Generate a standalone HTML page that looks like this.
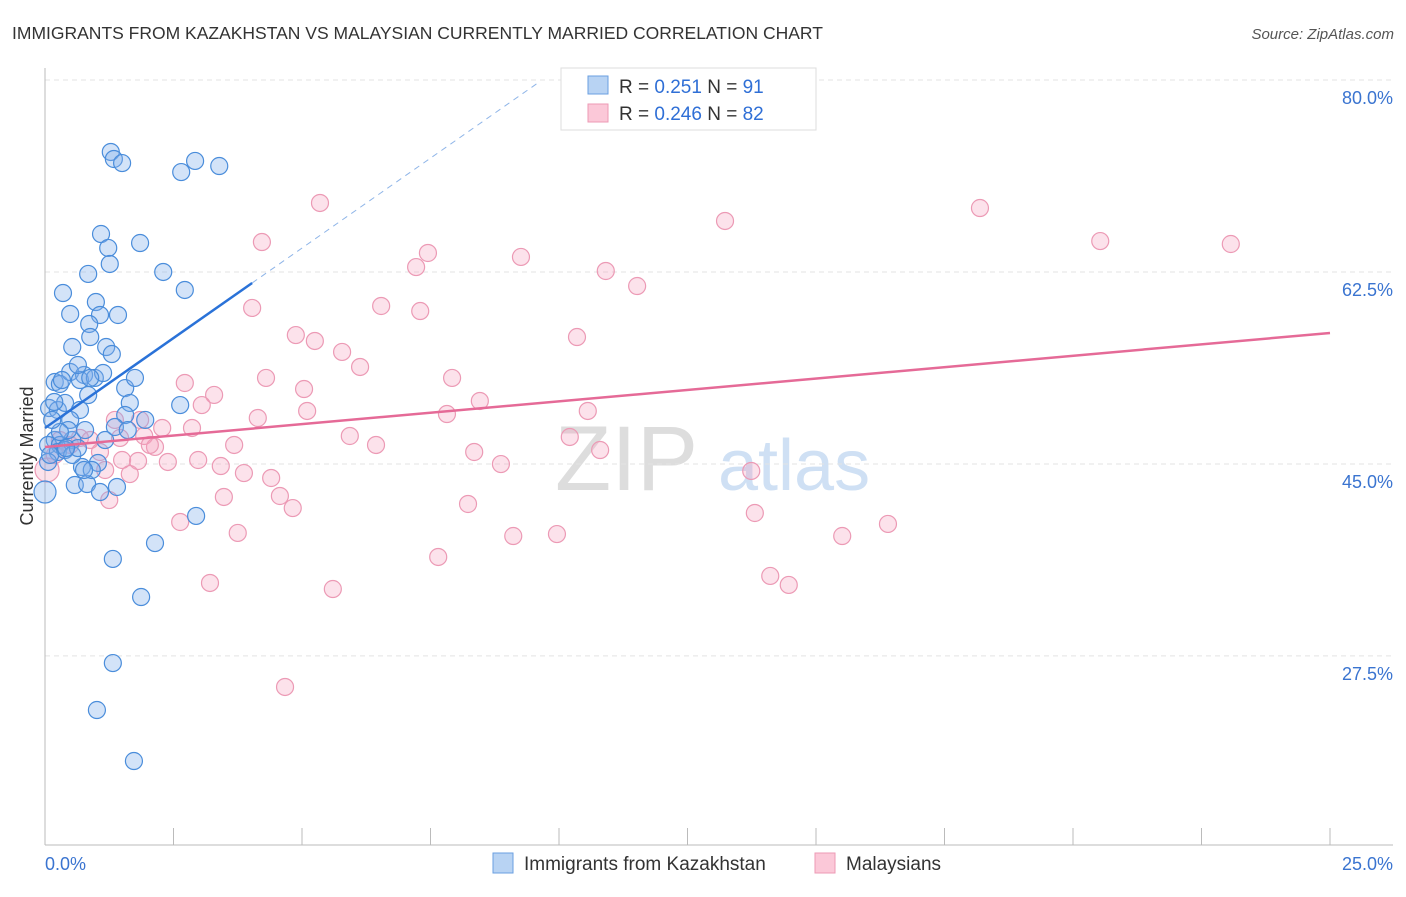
<!DOCTYPE html>
<html><head><meta charset="utf-8"><style>
body{margin:0;background:#fff;font-family:"Liberation Sans",sans-serif;}
svg text{font-family:"Liberation Sans",sans-serif;}
</style></head><body>
<svg id="chart" width="1406" height="892" xmlns="http://www.w3.org/2000/svg">
<text x="12" y="39" font-size="17.5" fill="#333">IMMIGRANTS FROM KAZAKHSTAN VS MALAYSIAN CURRENTLY MARRIED CORRELATION CHART</text>
<text x="1394" y="39" font-size="15" fill="#555" text-anchor="end" font-style="italic">Source: ZipAtlas.com</text>
<g>
<text x="555" y="490" font-size="92" fill="#ddd" font-family="Liberation Serif,serif">ZIP</text>
<text x="718" y="490" font-size="72" fill="#cfe0f4">atlas</text>
</g>
<g id="grid"></g>
<g id="axes"></g>
<g id="marks"></g>
<text transform="translate(33,456) rotate(-90)" font-size="18" fill="#333" text-anchor="middle">Currently Married</text>
<g>
<rect x="561" y="68" width="255" height="62" fill="#fff" stroke="#ddd"/>
<rect x="588" y="76" width="20" height="18" fill="#b8d3f3" stroke="#6a9fe0"/>
<rect x="588" y="104" width="20" height="18" fill="#fbc8d8" stroke="#ec9ab5"/>
<text x="619" y="93" font-size="19" fill="#333">R = <tspan fill="#2f6fd6">0.251</tspan>   N = <tspan fill="#2f6fd6">91</tspan></text>
<text x="619" y="120" font-size="19" fill="#333">R = <tspan fill="#2f6fd6">0.246</tspan>   N = <tspan fill="#2f6fd6">82</tspan></text>
</g>
<g>
<rect x="493" y="853" width="20" height="20" fill="#b8d3f3" stroke="#6a9fe0"/>
<text x="524" y="870" font-size="19" fill="#333">Immigrants from Kazakhstan</text>
<rect x="815" y="853" width="20" height="20" fill="#fbc8d8" stroke="#ec9ab5"/>
<text x="846" y="870" font-size="19" fill="#333">Malaysians</text>
</g>
</svg>
<script>
const yTicks=[80,62.5,45,27.5];
const yTickLabels=["80.0%","62.5%","45.0%","27.5%"];
const xTicks=[0,2.5,5,7.5,10,12.5,15,17.5,20,22.5,25];
const xTickLabels=["0.0%","25.0%"];
const blueX=[1.28,1.34,1.50,2.65,2.92,3.39,1.09,1.85,1.23,1.26,0.84,2.30,0.35,2.72,0.99,0.49,1.42,1.07,0.86,0.88,0.53,1.19,1.30,0.19,0.29,0.49,0.76,0.68,0.97,1.13,1.56,1.75,0.08,0.25,0.39,0.68,1.65,1.95,2.63,1.56,0.49,0.19,0.06,0.29,0.53,0.78,1.17,1.36,0.25,0.39,0.06,0.72,1.03,0.58,0.82,1.40,1.07,0.00,2.94,2.14,1.32,1.87,1.32,1.01,1.73,0.18,0.33,0.64,0.88,0.45,0.29,0.14,0.53,0.10,0.84,0.64,0.41,0.91,0.76,1.61];
const blueY=[73.44,72.80,72.43,71.61,72.62,72.16,65.96,65.14,64.69,63.23,62.32,62.50,60.58,60.86,59.76,58.67,58.58,58.58,57.76,56.57,55.66,55.66,55.02,52.47,52.29,53.38,53.11,52.65,52.84,53.29,51.92,52.84,50.10,49.92,50.56,49.92,50.56,49.01,50.37,49.46,49.01,47.18,46.73,46.73,47.18,48.09,47.18,48.37,46.09,46.27,45.18,44.72,45.09,43.08,43.17,42.90,42.44,42.44,40.26,37.79,36.34,32.87,26.85,22.57,17.92,50.65,52.65,54.02,52.84,48.09,47.91,49.01,45.82,45.82,51.28,46.45,46.45,44.45,44.45,48.09];
const pinkX=[5.35,4.22,7.45,9.26,7.22,10.91,11.52,13.23,18.19,20.53,23.07,4.03,6.54,7.30,4.88,5.25,5.78,6.13,10.35,2.72,4.30,3.29,5.04,7.92,8.46,3.05,4.14,5.10,7.82,10.56,1.36,2.28,2.86,1.93,1.46,2.14,5.93,6.44,3.68,10.21,10.80,8.35,1.07,1.50,1.81,2.39,2.98,3.42,3.87,4.40,4.57,4.82,3.48,1.25,2.63,3.75,5.60,3.21,7.65,8.23,8.87,9.11,9.96,13.74,13.81,14.11,14.47,15.51,16.40,4.67,0.04,0.29,0.68,0.49,1.65,1.17,0.88,1.85,0.19,2.04];
const pinkY=[68.79,65.23,64.23,63.87,62.95,62.59,61.22,67.15,68.33,65.32,65.05,59.22,59.40,58.94,56.75,56.21,55.21,53.84,56.57,52.38,52.84,51.29,51.83,52.84,50.74,50.37,49.19,49.83,49.55,49.83,49.01,48.28,48.28,47.55,47.37,46.55,47.55,46.73,46.73,47.46,46.27,46.09,46.09,45.36,45.27,45.18,45.36,44.81,44.17,43.72,42.08,40.98,41.99,41.71,39.71,38.71,33.60,34.15,36.52,41.35,44.99,38.43,38.61,44.36,40.53,34.79,33.97,38.43,39.53,24.67,44.45,47.18,47.37,46.73,44.08,44.45,47.18,49.01,45.82,46.73];
const blueTrend=[48.28,3.28];
const pinkTrend=[46.55,56.94];

const NS="http://www.w3.org/2000/svg";
const sx=v=>45+v*51.4;
const sy=v=>80+(80-v)*10.97;
function mk(tag,attrs,parent){const e=document.createElementNS(NS,tag);for(const k in attrs)e.setAttribute(k,attrs[k]);parent.appendChild(e);return e;}
const grid=document.getElementById('grid'),axes=document.getElementById('axes'),marks=document.getElementById('marks');
yTicks.forEach((t,i)=>{
 const l=mk('line',{x1:45,x2:1393,y1:sy(t),y2:sy(t),stroke:'#e3e3e3','stroke-dasharray':'5,4'},grid);
 
 
 const tx=mk('text',{x:1393,y:sy(t)+24,'font-size':18,fill:'#3a74d0','text-anchor':'end'},axes);
 tx.textContent=yTickLabels[i];
 
 
});
const ya=mk('line',{x1:45,x2:45,y1:68,y2:845,stroke:'#bbb'},axes);


const xa=mk('line',{x1:45,x2:1393,y1:845,y2:845,stroke:'#bbb'},axes);


xTicks.forEach(t=>{
 const l=mk('line',{x1:sx(t),x2:sx(t),y1:828,y2:845,stroke:'#bbb'},axes);
 
 
});
const xl0=mk('text',{x:45,y:870,'font-size':18,fill:'#3a74d0'},axes);
xl0.textContent=xTickLabels[0];


const xl1=mk('text',{x:1393,y:870,'font-size':18,fill:'#3a74d0','text-anchor':'end'},axes);
xl1.textContent=xTickLabels[1];



pinkX.forEach((x,i)=>{
 const c=mk('circle',{cx:sx(x),cy:sy(pinkY[i]),r:i===70?12:8.5,fill:'rgba(245,160,190,0.3)',stroke:'#ec9ab5','stroke-width':1.2},marks);
 
 
});
blueX.forEach((x,i)=>{
 const c=mk('circle',{cx:sx(x),cy:sy(blueY[i]),r:i===57?11:8.5,fill:'rgba(130,175,235,0.35)',stroke:'#4a8ddb','stroke-width':1.2},marks);
 
 
});
const bt=v=>blueTrend[0]+blueTrend[1]*v;
const b1=mk('line',{x1:sx(0),y1:sy(bt(0)),x2:sx(4.03),y2:sy(bt(4.03)),stroke:'#2a72d8','stroke-width':2.5},marks);


const b2=mk('line',{x1:sx(4.03),y1:sy(bt(4.03)),x2:sx(9.6),y2:sy(bt(9.6)),stroke:'#8fb5e8','stroke-width':1,'stroke-dasharray':'6,5'},marks);


const p1=mk('line',{x1:sx(0),y1:sy(pinkTrend[0]),x2:sx(25),y2:sy(pinkTrend[1]),stroke:'#e56a97','stroke-width':2.5},marks);


</script>
</body></html>
